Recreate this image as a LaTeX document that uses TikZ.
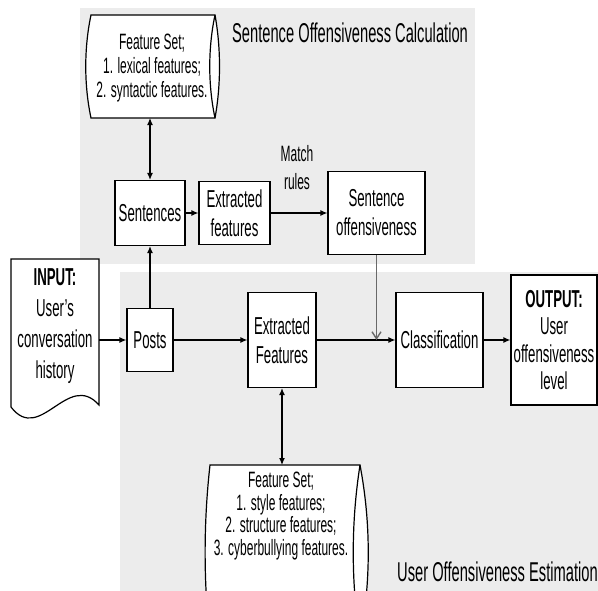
\documentclass[tikz,border=0pt]{standalone}
\usepackage{fontspec}
\setmainfont{Liberation Sans}[FakeStretch=0.54]
\usetikzlibrary{arrows.meta}
\definecolor{regbg}{RGB}{236,236,236}
\definecolor{linkgray}{RGB}{105,105,105}
\newcommand\boxfont{\fontsize{24.5}{29}\selectfont}
\newcommand\setfont{\fontsize{22.2}{24}\selectfont}
\newcommand\titlefont{\fontsize{27.2}{30}\selectfont}
\begin{document}
\begin{tikzpicture}[x=1pt,y=-1pt,
  box/.style={draw, line width=1.2pt, fill=white, align=center, inner sep=0pt, font=\boxfont},
  txt/.style={align=center, inner sep=0pt},
  arr/.style={-{Latex[length=7pt,width=6pt]}, line width=1.2pt},
  darr/.style={{Latex[length=7pt,width=6pt]}-{Latex[length=7pt,width=6pt]}, line width=1.2pt},
  shapeline/.style={line width=1.2pt}]
\useasboundingbox (0,0) rectangle (598,590);
\clip (0,0) rectangle (598,590);
% regions
\fill[regbg] (80,8) rectangle (475,264);
\fill[regbg] (120,272) rectangle (600,592);
% titles
\node[txt, anchor=west, font=\titlefont] (t1) at (232,33) {Sentence Offensiveness Calculation};
\node[txt, anchor=west, font=\titlefont] (t2) at (397,572) {User Offensiveness Estimation};
% top feature set (horizontal cylinder)
\draw[shapeline, fill=white] (91,15) -- (215,15) .. controls (221,48) and (221,85) .. (215,118) -- (91,118) .. controls (84,85) and (84,48) .. (91,15) -- cycle;
\draw[shapeline] (215,15) .. controls (208,48) and (208,85) .. (215,118);
\node[txt, font=\setfont] (fs1) at (152,68) {Feature Set;\\1. lexical features;\\2. syntactic features.};
\coordinate (fs1b) at (150,118);
% bottom feature set
\draw[shapeline, fill=white] (210,465) -- (360,465) .. controls (371,523) and (371,582) .. (360,640) -- (210,640) .. controls (203.5,582) and (203.5,523) .. (210,465) -- cycle;
\draw[shapeline] (360,465) .. controls (351,523) and (351,582) .. (360,640);
\node[txt, font=\fontsize{22.2}{22.7}\selectfont] (fs2) at (281,516) {Feature Set;\\1. style features;\\2. structure features;\\3. cyberbullying features.};
\coordinate (fs2t) at (283,465);
% input document
\draw[shapeline, fill=white] (11,259) -- (99,259) -- (99,405) .. controls (68,370) and (40,445) .. (11,407) -- cycle;
\node[txt, font=\fontsize{24.5}{31}\selectfont] (inp) at (55,326) {\textbf{INPUT:}\\User's\\conversation\\history};
\coordinate (inpE) at (99,340);
% boxes
\node[box, minimum width=70pt, minimum height=65pt] (sent) at (150,213) {Sentences};
\node[box, minimum width=71pt, minimum height=63pt] (ext1) at (234.5,213) {Extracted\\features};
\node[box, minimum width=97pt, minimum height=83pt] (so) at (376.5,213) {Sentence\\offensiveness};
\node[box, minimum width=46pt, minimum height=63pt] (posts) at (150,340) {Posts};
\node[box, minimum width=68pt, minimum height=95pt] (ef) at (282,340) {Extracted\\Features};
\node[box, minimum width=87pt, minimum height=95pt] (cls) at (439.5,340) {Classification};
\node[box, minimum width=86pt, minimum height=130pt, font=\fontsize{24.5}{27.5}\selectfont] (out) at (554,340) {\textbf{OUTPUT:}\\User\\offensiveness\\level};
\node[txt, font=\fontsize{22.2}{28}\selectfont] (match) at (297,168) {Match\\rules};
% connectors
\draw[darr] (sent.north) -- (fs1b);
\draw[arr] (sent) -- (ext1);
\draw[arr] (ext1) -- (so);
\draw[arr] (inpE) -- (posts);
\draw[arr] (posts) -- (sent);
\draw[arr] (posts) -- (ef);
\draw[arr] (ef) -- (cls);
\draw[arr] (cls) -- (out);
\draw[darr] (ef.south) -- (ef.south |- fs2t);
\draw[line width=1.4pt, linkgray, -{Straight Barb[length=7pt,width=9pt]}] (so.south) -- (so.south |- cls.west);
\end{tikzpicture}
\end{document}
